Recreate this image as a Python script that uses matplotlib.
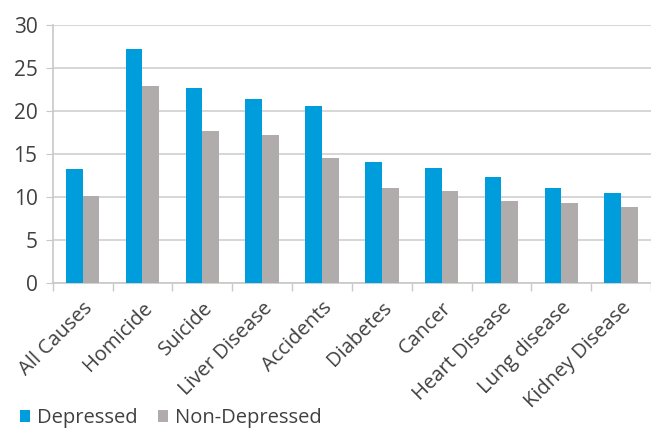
import matplotlib
matplotlib.use("Agg")
import matplotlib.pyplot as plt
import numpy as np

categories = ["All Causes", "Homicide", "Suicide", "Liver Disease", "Accidents",
              "Diabetes", "Cancer", "Heart Disease", "Lung disease", "Kidney Disease"]
depressed = [13.3, 27.2, 22.7, 21.4, 20.6, 14.1, 13.4, 12.3, 11.1, 10.5]
non_depressed = [10.1, 22.9, 17.7, 17.2, 14.5, 11.1, 10.7, 9.5, 9.3, 8.8]
yticks = [0, 5, 10, 15, 20, 25, 30]

blue = "#009DDC"
gray = "#B1ACAC"
text_color = "#404040"

plt.rcParams['font.family'] = ['Open Sans', 'DejaVu Sans']

fig = plt.figure(figsize=(6.51, 4.34), dpi=100)
ax = fig.add_axes([0.081, 0.348, 0.919, 0.594])

x = np.arange(len(categories))
w = 0.28
ax.bar(x - w/2, depressed, w, color=blue, label="Depressed", zorder=3)
ax.bar(x + w/2, non_depressed, w, color=gray, label="Non-Depressed", zorder=3)

ax.set_xlim(-0.5, len(categories) - 0.5)
ax.set_ylim(0, 30)
ax.set_yticks(yticks)
ax.yaxis.grid(True, color="#D0D0D0", linewidth=1.2, zorder=0)
ax.set_axisbelow(True)

ax.set_xticks(x)
ax.set_xticklabels(categories, rotation=45, ha="right", rotation_mode="anchor",
                   fontsize=14.5, color=text_color)
ax.tick_params(axis="x", length=0, pad=11)
ax.set_xticks(np.arange(-0.5, len(categories), 1), minor=True)
ax.tick_params(axis="x", which="minor", length=6, color="#C8C8C8", width=1)
ax.tick_params(axis="y", labelsize=15, colors=text_color, length=5, color="#C8C8C8", pad=6)

for s in ["top", "right"]:
    ax.spines[s].set_visible(False)
for s in ["left", "bottom"]:
    ax.spines[s].set_color("#C8C8C8")
    ax.spines[s].set_linewidth(1.2)

leg = fig.legend(loc="lower left", bbox_to_anchor=(0.003, -0.028), ncol=2, frameon=False,
                 fontsize=14.5, handlelength=0.5, handleheight=0.5, handletextpad=0.35,
                 columnspacing=1.0, labelcolor=text_color)

fig.savefig("out.png", dpi=100)
